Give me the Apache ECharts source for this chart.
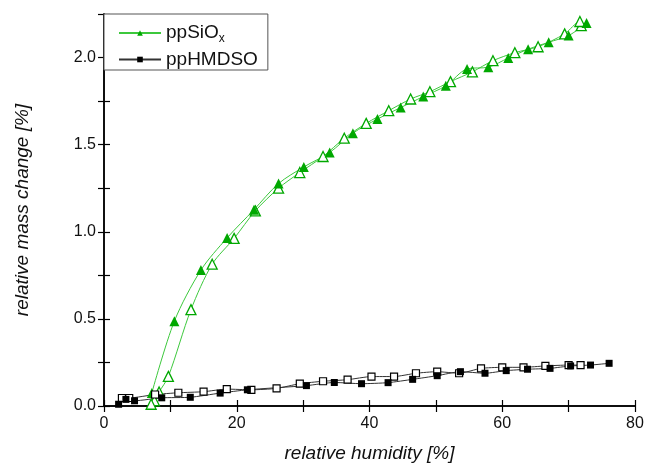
<!DOCTYPE html>
<html>
<head>
<meta charset="utf-8">
<script src="https://cdn.jsdelivr.net/npm/echarts@6/dist/echarts.min.js"></script>
<style>
html, body { margin: 0; padding: 0; background: #fff; }
#chart { width: 647px; height: 464px; }
</style>
</head>
<body>
<div id="chart"></div>
<script>
// 吸附曲线 ppSiOx（实心=吸附，空心=脱附）
var siAdsX = [7.2, 10.6, 14.6, 18.55, 22.6, 26.3, 30.1, 34.0, 37.5, 41.2, 44.7, 48.1, 51.5, 54.7, 57.9, 60.9, 63.9, 67.0, 70.0, 72.7];
var siAdsY = [0.075, 0.487, 0.78, 0.965, 1.127, 1.277, 1.372, 1.455, 1.566, 1.647, 1.713, 1.776, 1.838, 1.935, 1.945, 1.997, 2.048, 2.088, 2.126, 2.198];
var siDesX = [71.9, 71.7, 69.4, 65.4, 61.9, 58.6, 55.5, 52.2, 49.1, 46.2, 42.9, 39.5, 36.2, 33.0, 29.5, 26.3, 22.8, 19.6, 16.3, 13.1, 9.7, 8.3, 7.6, 7.1];
var siDesY = [2.183, 2.207, 2.136, 2.062, 2.028, 1.982, 1.918, 1.862, 1.804, 1.762, 1.695, 1.622, 1.537, 1.432, 1.34, 1.25, 1.12, 0.962, 0.814, 0.553, 0.17, 0.08, 0.03, 0.01];
// ppHMDSO
var hmAdsX = [2.2, 3.3, 4.6, 8.7, 13.0, 17.5, 21.6, 30.5, 34.7, 38.8, 42.8, 46.5, 50.2, 53.7, 57.4, 60.6, 63.8, 67.2, 70.3, 73.3, 76.1];
var hmAdsY = [0.01, 0.038, 0.03, 0.047, 0.05, 0.074, 0.093, 0.117, 0.135, 0.128, 0.134, 0.153, 0.174, 0.197, 0.188, 0.203, 0.211, 0.216, 0.23, 0.235, 0.245];
var hmDesX = [71.8, 70.0, 66.5, 63.2, 60.0, 56.8, 53.5, 50.2, 47.0, 43.7, 40.3, 36.7, 33.0, 29.5, 26.0, 22.2, 18.5, 15.0, 11.2, 7.7, 3.8, 2.7];
var hmDesY = [0.235, 0.235, 0.23, 0.222, 0.222, 0.216, 0.188, 0.197, 0.188, 0.169, 0.169, 0.151, 0.142, 0.128, 0.101, 0.093, 0.097, 0.082, 0.076, 0.066, 0.046, 0.046];

function pairs(xs, ys) {
    var out = [];
    for (var i = 0; i < xs.length; i++) {
        out.push([xs[i], ys[i]]);
    }
    return out;
}

var green = '#00a800',
    greenLine = '#3cc83c',
    black = '#000',
    blackLine = '#333';
var font = 'Liberation Sans, Arial, sans-serif';

var chart = echarts.init(document.getElementById('chart'));
chart.setOption({
    animation: false,
    grid: { left: 104, right: 12, top: 14, bottom: 58, outerBoundsMode: 'none' },
    legend: {
        left: 104,
        top: 14,
        orient: 'vertical',
        backgroundColor: '#fff',
        borderColor: '#555',
        borderWidth: 1,
        borderRadius: 0,
        padding: [7, 10, 1, 14],
        itemWidth: 42,
        itemHeight: 7,
        itemGap: 5,
        selectedMode: false,
        data: ['ppSiOx', 'ppHMDSO'],
        formatter: function (name) {
            return name === 'ppSiOx' ? '{a|ppSiO}{s|x}' : '{a|ppHMDSO}';
        },
        textStyle: {
            fontFamily: font,
            rich: {
                a: { fontSize: 19, color: '#111', fontFamily: font, lineHeight: 20 },
                s: { fontSize: 12, color: '#111', fontFamily: font, lineHeight: 20, padding: [12, 0, 0, 0] }
            }
        }
    },
    xAxis: [{
        type: 'value',
        min: 0,
        max: 80,
        interval: 10,
        name: 'relative humidity [%]',
        nameLocation: 'middle',
        nameGap: 38,
        nameTextStyle: { fontFamily: font, fontSize: 19, fontStyle: 'italic', color: '#111' },
        axisLine: { onZero: false, lineStyle: { color: '#000', width: 1.5 } },
        axisTick: { inside: true, length: 6, lineStyle: { color: '#000', width: 1.2 } },
        axisLabel: {
            fontFamily: font, fontSize: 16, color: '#111', margin: 10,
            formatter: function (v) { return v % 20 === 0 ? String(v) : ''; }
        },
        splitLine: { show: false }
    }, {
        type: 'value',
        position: 'top',
        min: 0,
        max: 80,
        interval: 10,
        axisLine: { show: true, lineStyle: { color: '#000', width: 1.5 } },
        axisTick: { inside: true, length: 6, lineStyle: { color: '#000', width: 1.2 } },
        axisLabel: { show: false },
        splitLine: { show: false }
    }],
    yAxis: [{
        type: 'value',
        min: 0,
        max: 2.25,
        interval: 0.25,
        name: 'relative mass change [%]',
        nameLocation: 'middle',
        nameGap: 72,
        nameTextStyle: { fontFamily: font, fontSize: 19, fontStyle: 'italic', color: '#111' },
        axisLine: { show: true, onZero: false, lineStyle: { color: '#000', width: 1.5 } },
        axisTick: { show: true, inside: true, length: 6, lineStyle: { color: '#000', width: 1.2 } },
        axisLabel: {
            fontFamily: font, fontSize: 16, color: '#111', margin: 8,
            formatter: function (v) {
                var r = Math.round(v * 100);
                return r % 50 === 0 ? v.toFixed(1) : '';
            }
        },
        splitLine: { show: false }
    }, {
        type: 'value',
        position: 'right',
        min: 0,
        max: 2.25,
        interval: 0.25,
        axisLine: { show: true, lineStyle: { color: '#000', width: 1.5 } },
        axisTick: { show: true, inside: true, length: 6, lineStyle: { color: '#000', width: 1.2 } },
        axisLabel: { show: false },
        splitLine: { show: false }
    }],
    series: [{
        name: 'ppSiOx desorption',
        type: 'line',
        smooth: 0.3,
        data: pairs(siDesX, siDesY),
        symbol: 'triangle',
        symbolSize: 10,
        lineStyle: { color: greenLine, width: 1 },
        itemStyle: { color: '#fff', borderColor: green, borderWidth: 1.3 }
    }, {
        name: 'ppSiOx',
        type: 'line',
        smooth: 0.3,
        data: pairs(siAdsX, siAdsY),
        symbol: 'triangle',
        symbolSize: 10,
        lineStyle: { color: greenLine, width: 1 },
        itemStyle: { color: green }
    }, {
        name: 'ppHMDSO desorption',
        type: 'line',
        smooth: 0.2,
        data: pairs(hmDesX, hmDesY),
        symbol: 'rect',
        symbolSize: 7,
        lineStyle: { color: blackLine, width: 1 },
        itemStyle: { color: '#fff', borderColor: black, borderWidth: 1.2 }
    }, {
        name: 'ppHMDSO',
        type: 'line',
        smooth: 0.2,
        data: pairs(hmAdsX, hmAdsY),
        symbol: 'rect',
        symbolSize: 7,
        lineStyle: { color: blackLine, width: 1 },
        itemStyle: { color: black }
    }]
});
</script>
</body>
</html>
